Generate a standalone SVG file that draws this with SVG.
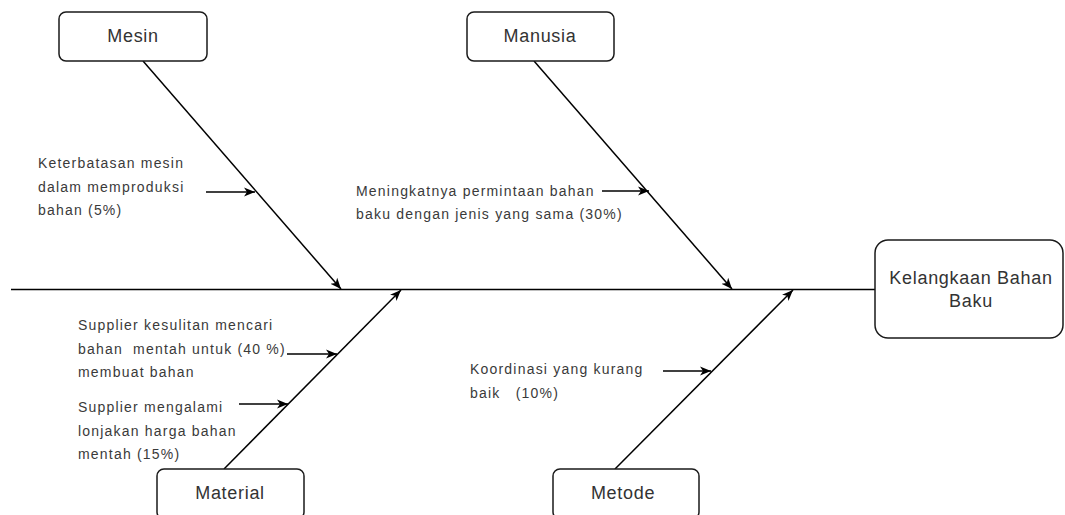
<svg xmlns="http://www.w3.org/2000/svg" width="1065" height="515" viewBox="0 0 1065 515">
  <style>
    .box { fill: #ffffff; stroke: #1a1a1a; stroke-width: 1.5; }
    .title { font-family: "Liberation Sans", Arial, sans-serif; font-size: 18px; letter-spacing: 0.7px; fill: #333333; text-anchor: middle; }
    .label { font-family: "Liberation Sans", Arial, sans-serif; font-size: 14px; letter-spacing: 1.2px; fill: #3a3a3a; }
    .bone { stroke: #000000; stroke-width: 1.5; fill: none; }
    .arrow { stroke: #000000; stroke-width: 1.5; fill: none; marker-end: url(#head); }
  </style>
  <defs>
    <marker id="head" markerUnits="userSpaceOnUse" markerWidth="12" markerHeight="10" viewBox="0 0 12 10" refX="11" refY="5" orient="auto">
      <path d="M0,0.5 L11,5 L0,9.5 L3,5 Z" fill="#000000"/>
    </marker>
  </defs>

  <rect width="1065" height="515" fill="#ffffff"/>

  <!-- spine and cause bones -->
  <g id="connectors">
    <line class="bone" x1="11" y1="289.5" x2="875" y2="289.5"/>
    <line class="arrow" x1="143" y1="61" x2="341" y2="289"/>
    <line class="arrow" x1="534" y1="61" x2="732" y2="289"/>
    <line class="arrow" x1="224" y1="469" x2="401" y2="290"/>
    <line class="arrow" x1="615" y1="469" x2="793" y2="290"/>
    <!-- sub-cause arrows -->
    <line class="arrow" x1="206" y1="192" x2="255" y2="192"/>
    <line class="arrow" x1="602" y1="191" x2="649" y2="191"/>
    <line class="arrow" x1="287" y1="354" x2="337" y2="354"/>
    <line class="arrow" x1="239" y1="404" x2="288" y2="404"/>
    <line class="arrow" x1="663" y1="371" x2="711" y2="371"/>
  </g>

  <g id="mesin">
    <rect class="box" x="59" y="12" width="148" height="49" rx="7"/>
    <text class="title" x="133" y="41.5">Mesin</text>
  </g>

  <g id="manusia">
    <rect class="box" x="467" y="12" width="147" height="49" rx="7"/>
    <text class="title" x="540" y="41.5">Manusia</text>
  </g>

  <g id="material">
    <rect class="box" x="157" y="469" width="147" height="50" rx="7"/>
    <text class="title" x="230" y="498.5">Material</text>
  </g>

  <g id="metode">
    <rect class="box" x="553" y="469" width="146" height="50" rx="7"/>
    <text class="title" x="623" y="498.5">Metode</text>
  </g>

  <g id="kelangkaan">
    <rect class="box" x="875" y="240" width="188" height="98" rx="13"/>
    <text class="title" x="971" y="283.5">Kelangkaan Bahan</text>
    <text class="title" x="971" y="306.5">Baku</text>
  </g>

  <g id="cause-mesin">
    <text class="label" x="38" y="168">Keterbatasan mesin</text>
    <text class="label" x="38" y="191.5">dalam memproduksi</text>
    <text class="label" x="38" y="215">bahan (5%)</text>
  </g>

  <g id="cause-manusia">
    <text class="label" x="356" y="195.5">Meningkatnya permintaan bahan</text>
    <text class="label" x="356" y="218.5">baku dengan jenis yang sama (30%)</text>
  </g>

  <g id="cause-material-1">
    <text class="label" x="78" y="330">Supplier kesulitan mencari</text>
    <text class="label" x="78" y="354" xml:space="preserve">bahan  mentah untuk (40 %)</text>
    <text class="label" x="78" y="377">membuat bahan</text>
  </g>

  <g id="cause-material-2">
    <text class="label" x="78" y="412">Supplier mengalami</text>
    <text class="label" x="78" y="435.5">lonjakan harga bahan</text>
    <text class="label" x="78" y="459">mentah (15%)</text>
  </g>

  <g id="cause-metode">
    <text class="label" x="470" y="374">Koordinasi yang kurang</text>
    <text class="label" x="470" y="398" xml:space="preserve">baik   (10%)</text>
  </g>
</svg>
